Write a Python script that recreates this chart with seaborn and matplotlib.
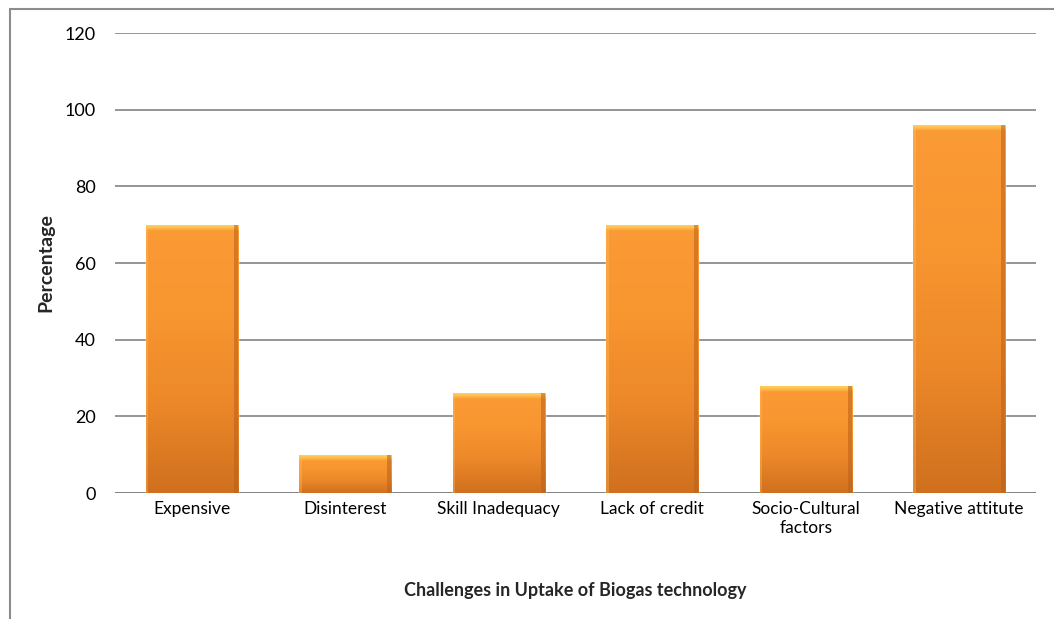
import numpy as np
import pandas as pd
import seaborn as sns
import matplotlib
matplotlib.use("Agg")
import matplotlib.pyplot as plt
from matplotlib.colors import LinearSegmentedColormap
from matplotlib.lines import Line2D

categories = ["Expensive", "Disinterest", "Skill Inadequacy", "Lack of credit",
              "Socio-Cultural\nfactors", "Negative attitute"]
values = [70, 10, 26, 70, 28, 96]
yticks = [0, 20, 40, 60, 80, 100, 120]

sns.set_theme(style="white")
plt.rcParams['font.family'] = ['Lato', 'DejaVu Sans']

fig = plt.figure(figsize=(10.54, 6.19), dpi=100)
ax = fig.add_axes([115/1054, 1-493/619, 921/1054, 460/619])

df = pd.DataFrame({"Challenge": categories, "Percentage": values})
sns.barplot(data=df, x="Challenge", y="Percentage", color="#F7962E",
            width=0.6, ax=ax, zorder=3, saturation=1)

ax.set_ylim(0, 120)
ax.set_yticks(yticks)
ax.yaxis.grid(True, color="#8c8c8c", lw=1.3)
ax.set_axisbelow(True)
for sp in ax.spines.values():
    sp.set_visible(False)
ax.axhline(0, color="#7f7f7f", lw=1.8, zorder=2)

body = LinearSegmentedColormap.from_list("body", ["#D0701F", "#EC8829", "#F89630", "#FB9B35"])
top = LinearSegmentedColormap.from_list("top", ["#FA9A34", "#FFC04E", "#FFD865"])
grad = np.linspace(0, 1, 256).reshape(-1, 1)
for p in list(ax.patches):
    x0, y0 = p.get_x(), p.get_y()
    w, h = p.get_width(), p.get_height()
    im = ax.imshow(grad, cmap=body, origin="lower", extent=[x0, x0 + w, y0, y0 + h],
                   aspect="auto", zorder=4, interpolation="bilinear")
    im.set_clip_path(p)
    th = min(1.6, h * 0.3)
    im2 = ax.imshow(grad, cmap=top, origin="lower", extent=[x0, x0 + w, y0 + h - th, y0 + h],
                    aspect="auto", zorder=5, interpolation="bilinear")
    im2.set_clip_path(p)
    ew = 0.025
    ax.fill_between([x0 + w - ew, x0 + w], y0, y0 + h, color="#B8601C", alpha=0.55, lw=0, zorder=6)
    ax.fill_between([x0, x0 + ew * 0.6], y0, y0 + h, color="#FFC060", alpha=0.35, lw=0, zorder=6)

ax.set_xlim(-0.5, 5.5)
ax.tick_params(axis="both", length=0, labelsize=12.5, colors="black")
ax.tick_params(axis="y", pad=14, labelsize=13)
ax.tick_params(axis="x", pad=6)

ax.set_xlabel("Challenges in Uptake of Biogas technology", fontsize=13, fontweight="bold")
ax.xaxis.set_label_coords(0.5, -0.193)
ax.set_ylabel("Percentage", fontsize=14, fontweight="bold")
ax.yaxis.set_label_coords(-0.066, 0.5)

fig.add_artist(Line2D([10/1054, 10/1054], [0, 1 - 9/619], color="#8c8c8c", lw=1.5))
fig.add_artist(Line2D([10/1054, 1], [1 - 9/619, 1 - 9/619], color="#8c8c8c", lw=1.5))

fig.savefig("out.png", dpi=100)
